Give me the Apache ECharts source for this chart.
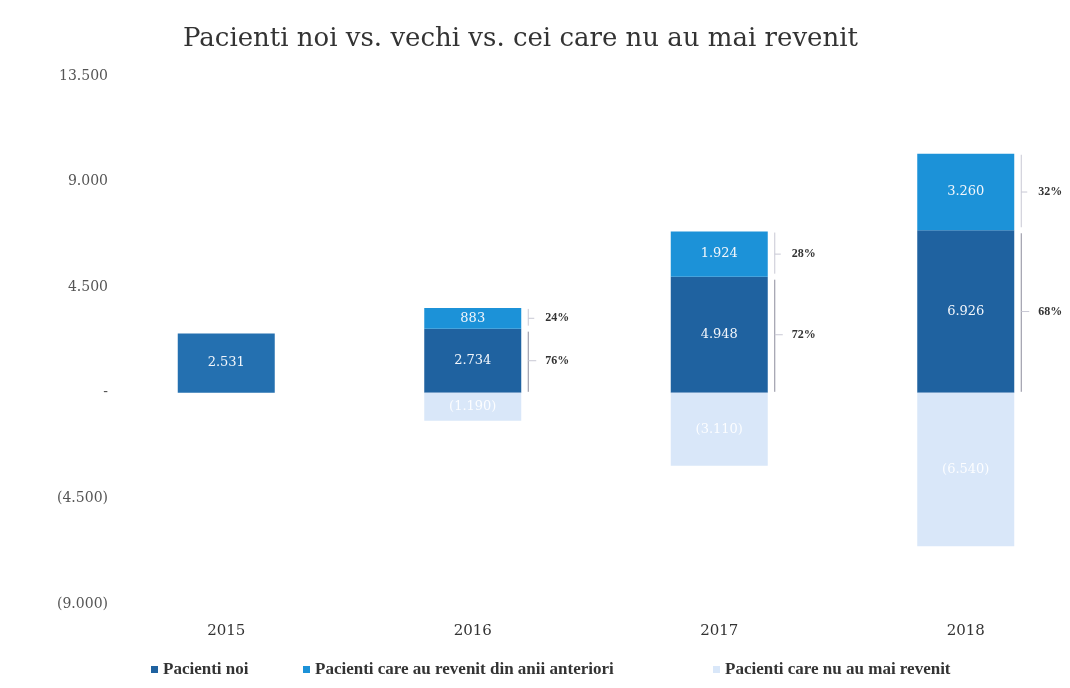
<!DOCTYPE html>
<html>
<head>
<meta charset="utf-8">
<script src="https://cdn.jsdelivr.net/npm/echarts@6/dist/echarts.min.js"></script>
<style>
    html, body { margin: 0; padding: 0; background: #fff; }
    #chart { width: 1070px; height: 688px; }
</style>
</head>
<body>
<div id="chart"></div>
<script>
const years = ['2015', '2016', '2017', '2018'];
const newPatients = [2531, 2734, 4948, 6926];
const returningPatients = [null, 883, 1924, 3260];
const lostPatients = [null, -1190, -3110, -6540];
const pctNew = ['', '76%', '72%', '68%'];
const pctReturning = ['', '24%', '28%', '32%'];

const serif = '"Liberation Serif", "DejaVu Serif", serif';
const wideSerif = '"DejaVu Serif", "Liberation Serif", serif';

const fmt = v => {
    const s = Math.abs(Math.round(v)).toString().replace(/\B(?=(\d{3})+(?!\d))/g, '.');
    if (v === 0) return '-';
    return v < 0 ? '(' + s + ')' : s;
};

const chart = echarts.init(document.getElementById('chart'), null, { renderer: 'canvas' });

const BAR_W = 97;

// brackets + percent labels to the right of the 2016-2018 bars
const renderPct = (params, api) => {
    const idx = api.value(0);
    const n = api.value(1);
    const r = api.value(2);
    if (!r) return;
    const center = api.coord([idx, 0]);
    const xLine = center[0] + BAR_W / 2 + 7;
    const y0 = center[1];
    const y1 = api.coord([idx, n])[1];
    const y2 = api.coord([idx, n + r])[1];
    const textStyle = (txt, y) => ({
        type: 'text',
        style: {
            text: txt, x: xLine + 17, y: y,
            fill: '#333', font: 'bold 12px ' + serif,
            verticalAlign: 'middle', align: 'left'
        }
    });
    const midN = (y0 + y1) / 2;
    const midR = (y1 + y2) / 2;
    return {
        type: 'group',
        children: [
            { type: 'line', shape: { x1: xLine, y1: y0 - 1, x2: xLine, y2: y1 + 3 }, style: { stroke: '#8c8c9c', lineWidth: 1 } },
            { type: 'line', shape: { x1: xLine, y1: y1 - 3, x2: xLine, y2: y2 + 1 }, style: { stroke: '#c8c8d4', lineWidth: 1 } },
            { type: 'line', shape: { x1: xLine, y1: midN, x2: xLine + 8, y2: midN }, style: { stroke: '#c8c8d4', lineWidth: 1 } },
            { type: 'line', shape: { x1: xLine, y1: midR, x2: xLine + 6, y2: midR }, style: { stroke: '#c8c8d4', lineWidth: 1 } },
            textStyle(pctNew[idx], midN),
            textStyle(pctReturning[idx], midR)
        ]
    };
};

const segLabel = (color) => ({
    show: true,
    position: 'inside',
    color: color,
    fontFamily: wideSerif,
    fontSize: 13,
    formatter: p => (p.value == null ? '' : fmt(p.value))
});

chartOption = {
    backgroundColor: '#ffffff',
    title: {
        text: 'Pacienti noi vs. vechi vs. cei care nu au mai revenit',
        left: 178,
        top: 21,
        textStyle: { fontFamily: wideSerif, fontSize: 26, fontWeight: 'normal', color: '#333' }
    },
    legend: [
        { data: ['Pacienti noi'], left: 146, top: 656 },
        { data: ['Pacienti care au revenit din anii anteriori'], left: 298, top: 656 },
        { data: ['Pacienti care nu au mai revenit'], left: 708, top: 656 }
    ].map(l => Object.assign(l, {
        itemWidth: 7, itemHeight: 7, itemGap: 4, icon: 'rect',
        textStyle: { fontFamily: serif, fontSize: 17, color: '#333', fontWeight: 'bold' }
    })),
    grid: { left: 103, width: 986, top: 76, height: 528, outerBoundsMode: 'none' },
    xAxis: {
        type: 'category',
        data: years,
        position: 'bottom',
        axisLine: { show: false },
        axisTick: { show: false },
        axisLabel: { color: '#333', fontFamily: wideSerif, fontSize: 15, margin: 20 }
    },
    yAxis: {
        type: 'value',
        min: -9000,
        max: 13500,
        interval: 4500,
        axisLine: { show: false },
        axisTick: { show: false },
        splitLine: { show: false },
        axisLabel: {
            color: '#555', fontFamily: wideSerif, fontSize: 14, margin: -5,
            formatter: v => fmt(v)
        }
    },
    series: [
        {
            name: 'Pacienti noi',
            type: 'bar',
            stack: 'total',
            barWidth: BAR_W,
            data: newPatients.map((v, i) => ({
                value: v,
                itemStyle: { color: i === 0 ? '#2470b0' : '#1f62a0' }
            })),
            itemStyle: { color: '#1f62a0' },
            label: segLabel('#f2f6fb')
        },
        {
            name: 'Pacienti care au revenit din anii anteriori',
            type: 'bar',
            stack: 'total',
            barWidth: BAR_W,
            data: returningPatients,
            itemStyle: { color: '#1c92d8' },
            label: segLabel('#f2f6fb')
        },
        {
            name: 'Pacienti care nu au mai revenit',
            type: 'bar',
            stack: 'total',
            barWidth: BAR_W,
            data: lostPatients,
            itemStyle: { color: '#d9e7f9' },
            label: segLabel('rgba(255,255,255,0.9)')
        },
        {
            type: 'custom',
            renderItem: renderPct,
            data: years.map((y, i) => [i, newPatients[i], returningPatients[i] || 0]),
            encode: { x: 0, y: [1] },
            silent: true,
            z: 5
        }
    ]
};

chart.setOption(chartOption);
</script>
</body>
</html>
